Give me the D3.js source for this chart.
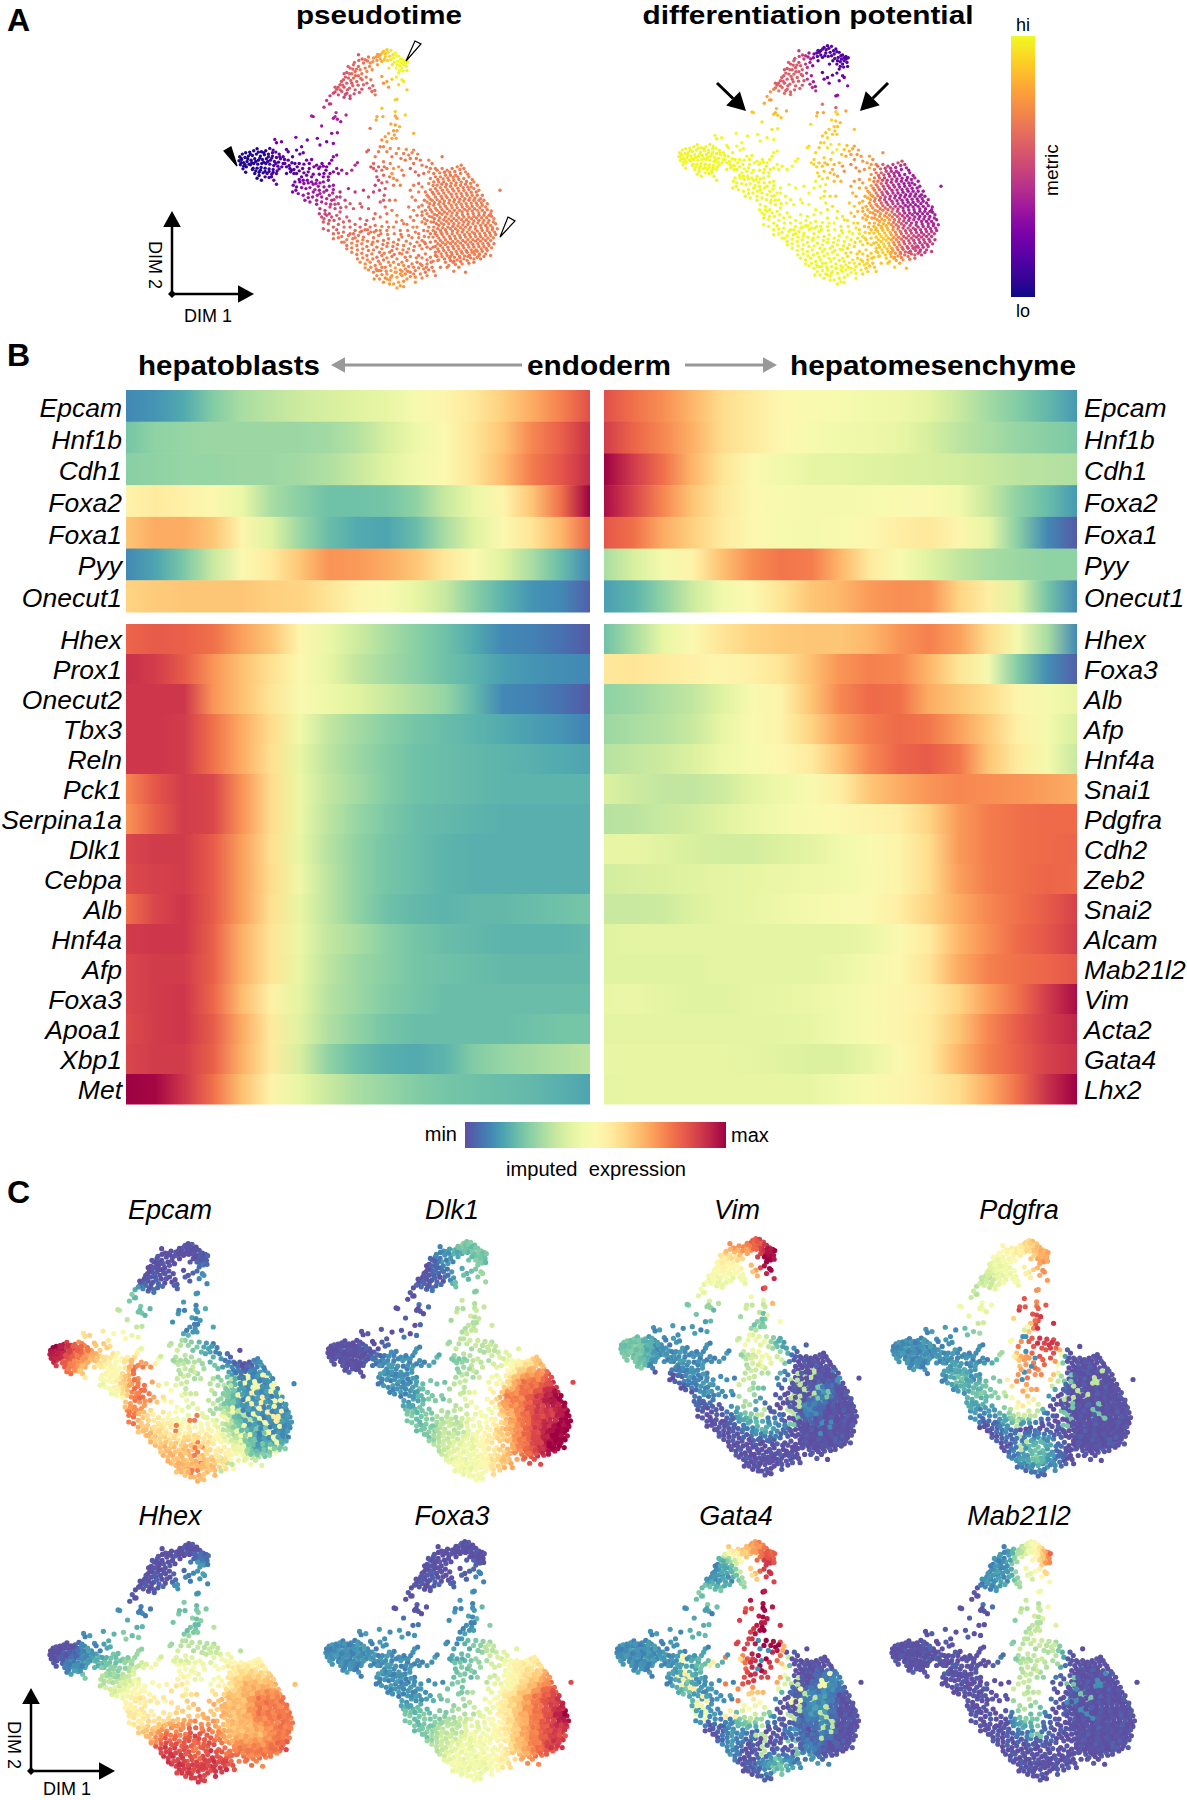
<!DOCTYPE html>
<html><head><meta charset="utf-8">
<script src="https://cdn.jsdelivr.net/npm/d3@7"></script>
<style>html,body{margin:0;padding:0;background:#fff}svg{display:block}text{font-family:"Liberation Sans",Arial,sans-serif;fill:#000}</style>
</head><body><svg id="c" width="1187" height="1800"></svg>
<script>
// --- embedding positions (DIM1, DIM2 as picture units)
const cells=[780,165,790,155,800,150,812,152,825,160,835,170,845,178,855,182,850,195,858,200,845,205,838,212,830,195,820,175,808,170,795,172,780,178,785,185,835,220,815,238,845,240,800,245,790,250,805,262,835,255,850,245,860,270,785,230,
760,175,745,172,735,180,715,165,750,190,730,190,715,200,700,195,690,205,720,210,705,215,695,222,680,218,685,235,700,235,715,228,725,222,740,215,670,240,680,250,695,250,710,245,660,255,672,262,688,265,650,268,665,275,680,280,655,285,672,292,690,288,705,270,725,268,748,265,755,275,765,285,730,255,
630,288,632,312,612,322,628,312,580,350,575,348,648,338,645,350,652,358,662,365,678,345,605,378,635,400,652,398,825,300,830,298,785,325,825,335,855,345,825,348,788,350,768,360,750,385,812,372,825,375,838,380,830,392,822,405,880,400,
360,470,368,462,378,458,390,456,402,452,412,446,425,455,438,452,450,445,460,450,468,456,478,462,358,482,366,478,376,472,386,468,398,466,410,462,422,468,434,464,446,462,458,468,470,472,482,476,362,494,372,488,382,484,394,480,405,476,416,480,428,478,440,476,452,480,464,484,476,486,490,490,370,506,380,500,392,494,402,490,414,492,426,490,438,490,450,492,462,496,474,498,486,500,378,516,400,504,412,504,424,502,436,504,448,506,460,508,472,512,405,520,418,516,430,518,442,520,456,522,470,520,412,534,425,540,448,532,462,540,470,552,
465,418,485,425,470,428,500,448,528,412,562,420,592,415,620,425,640,430,545,440,505,455,530,450,550,458,600,435,490,470,505,480,518,470,540,462,560,480,575,478,590,495,610,498,628,490,640,470,650,465,495,490,510,505,522,508,532,500,548,505,565,515,582,500,600,500,618,510,500,520,515,510,530,520,545,530,560,525,575,530,590,540,610,530,630,520,650,505,665,510,680,520,695,510,705,495,712,488,520,555,528,570,540,545,552,550,565,548,580,552,595,558,610,545,625,540,640,555,660,575,685,565,518,575,535,580,550,585,565,580,580,575,600,580,620,570,638,578,650,590,555,600,570,605,590,600,605,590,620,595,635,600,655,610,675,600,
785,420,800,425,790,440,810,445,775,455,800,455,815,470,760,490,790,485,745,450,740,455,835,445,850,460,865,465,880,450,892,462,870,475,855,480,880,490,900,480,925,480,935,490,945,505,965,470,820,505,835,500,800,505,760,505,815,520,770,530,790,525,830,540,850,525,895,525,910,520,925,515,800,545,785,548,775,540,795,565,820,555,840,555,760,575,730,570,705,575,875,590,885,600,895,575,
950,510,965,505,980,510,995,505,1010,500,1022,495,1035,515,1020,520,1005,525,990,525,975,525,960,530,945,530,930,535,925,550,940,545,955,545,970,545,985,540,1000,540,1015,538,1030,535,1045,530,1060,545,1070,555,1050,550,1035,552,1020,555,1005,555,990,558,975,560,960,562,945,565,930,568,915,575,925,590,940,582,955,580,970,578,985,575,1000,572,1015,572,1030,570,1045,568,1060,565,1075,570,1085,585,1070,585,1055,585,1040,585,1025,588,1010,590,995,590,980,592,965,595,950,598,935,600,920,605,1138,570,
905,615,925,620,940,615,955,612,970,610,985,608,1000,605,1015,605,1030,602,1045,600,1060,600,1075,600,1090,600,1100,610,1085,615,1070,615,1055,618,1040,618,1025,620,1010,622,995,622,980,625,965,628,950,630,935,635,920,640,905,645,920,660,935,650,950,645,965,642,980,640,995,638,1010,638,1025,635,1040,632,1055,632,1070,630,1085,630,1100,628,1112,632,1105,645,1090,645,1075,645,1060,648,1045,650,1030,650,1015,652,1000,654,985,656,970,658,955,660,940,665,
925,680,940,680,955,675,970,672,985,670,1000,670,1015,668,1030,665,1045,665,1060,662,1075,660,1090,660,1105,660,1120,655,1125,670,1110,675,1095,675,1080,675,1065,678,1050,680,1035,680,1020,682,1005,685,990,685,975,688,960,690,945,695,930,700,950,705,965,702,980,700,995,700,1010,698,1025,695,1040,695,1055,695,1070,692,1085,690,1100,690,1115,688,1130,685,1125,702,1110,705,1095,705,1080,708,1065,708,1050,710,1035,710,1020,712,1005,715,990,715,975,718,960,720,945,722,930,725,
945,738,960,735,975,732,990,730,1005,730,1020,728,1035,725,1050,725,1065,722,1080,722,1095,720,1110,720,1120,730,1105,735,1090,738,1075,738,1060,740,1045,740,1030,742,1015,745,1000,745,985,748,970,750,955,752,965,768,980,765,995,762,1010,760,1025,758,1040,755,1055,755,1070,752,1085,752,1100,750,1110,765,1090,768,1070,770,1050,772,1030,775,1010,778,990,780,975,785,1005,792,1025,790,1045,788,1060,785,960,800,980,800,1000,812,1035,815,945,825,
600,625,615,630,630,620,645,625,660,635,700,625,725,620,745,625,765,640,795,620,790,600,780,605,800,640,815,630,605,650,620,645,635,650,650,645,680,650,720,655,740,660,760,655,780,650,800,665,830,645,850,670,880,630,895,620,905,635,890,645,610,665,625,670,640,680,655,672,670,665,690,680,705,672,720,680,735,688,750,680,765,675,780,690,800,690,820,680,840,690,860,672,880,660,890,680,905,665,910,690,885,695,865,705,845,710,
640,700,655,698,670,695,685,705,700,700,715,705,730,710,745,700,760,712,775,705,790,720,805,715,820,725,835,718,850,735,870,730,890,725,905,720,920,740,905,745,665,725,680,735,695,728,710,735,725,730,740,738,755,732,770,740,785,745,800,738,815,750,830,745,845,760,860,755,880,750,895,765,915,760,930,770,945,765,695,755,710,762,725,758,740,765,755,760,770,770,785,765,800,772,815,768,830,775,845,785,860,780,875,790,890,785,905,795,920,790,935,800,
720,785,735,790,750,785,765,795,780,790,795,800,810,795,825,802,840,808,855,805,870,815,885,810,900,820,915,815,745,808,760,815,775,810,770,825,785,822,800,820,815,825,830,830,845,825,860,835,885,845,790,845,820,850,830,862,850,858,808,838];
const cellsExtra=[742,184,726,178,709,208,698,208,688,222,676,232,692,242,706,228,722,236,735,205,748,200,758,186,768,172,772,164,703,188,716,182,684,200,672,222,664,245,654,262,645,276,668,256,682,270,698,258,714,256,726,240,738,232,645,262,660,270,676,284,702,282,718,278,758,258,764,272,740,250,752,240,772,195,756,210,640,280,690,296,
786,160,796,162,804,158,818,165,828,168,840,180,850,186,842,190,832,185,822,188,812,180,802,182,792,180,775,170,770,182,848,214,838,198,828,205,856,190,862,186,860,212,828,232,806,205,816,195,
364,488,372,498,384,476,396,488,408,484,420,474,432,486,444,484,456,474,468,490,480,470,392,462,416,456,432,458,446,470,458,458,364,474,376,494,388,492,398,508,408,512,422,510,436,514,448,514,460,516,478,506,494,478,500,500,418,526,436,530,455,530,
508,496,516,488,525,490,538,490,552,492,568,490,596,505,606,490,620,500,635,480,512,515,522,520,538,512,552,518,568,505,580,522,598,522,612,520,625,530,640,515,655,520,538,538,550,540,562,540,575,545,588,550,600,548,612,560,628,558,640,568,525,545,530,560,545,562,558,565,570,562,585,568,598,570,612,575,628,585,642,598,660,590,565,592,578,590,592,585,605,605,618,610,632,612,645,612,662,622,678,620,590,612,598,640,612,655,628,640,
640,355,620,302,770,350,830,355,820,392,815,415,805,400,795,410,828,415,780,440,765,470,752,500,768,512,792,500,810,490,
828,460,842,475,858,448,875,458,888,475,905,495,918,500,930,505,940,520,870,505,885,515,845,510,820,535,808,530,785,510,775,500,765,555,778,570,792,585,808,600,825,600,870,570,880,555,895,550,905,560,865,620,870,650,720,610,690,610,745,590,
615,640,628,660,642,660,658,655,672,680,688,662,705,690,720,695,736,672,752,695,768,690,785,678,805,680,828,665,845,660,862,690,878,680,895,700,912,708,650,688,665,708,680,718,698,715,712,722,728,718,742,722,758,725,772,722,788,732,802,728,818,738,832,732,848,748,865,745,882,738,898,735,915,730,930,745,680,745,695,742,712,748,728,745,745,750,760,748,778,755,792,758,808,755,822,762,838,758,855,770,870,768,888,772,905,772,920,778,938,782,952,780,712,775,728,772,742,778,758,775,775,782,790,778,805,785,820,785,835,792,850,795,865,798,880,800,895,802,910,805,925,808,940,812,735,802,752,800,768,805,782,810,798,812,812,810,825,815,840,820,855,820,870,828,885,830,905,832,920,825,762,835,778,835,795,832,808,850,835,845,850,842,840,855,
958,518,972,516,988,516,1003,514,1018,508,1030,505,1042,522,1055,538,1012,530,998,532,982,533,968,536,952,538,938,556,950,555,964,552,978,552,992,549,1007,548,1022,546,1038,544,1052,560,1042,560,1028,562,1012,564,996,566,980,568,966,570,950,572,936,576,920,585,930,597,945,590,962,588,976,586,992,582,1007,581,1022,580,1037,578,1052,576,1067,575,1080,595,1063,593,1048,593,1033,595,1018,597,1002,598,987,600,972,602,958,604,942,607,928,610,912,600,
915,630,930,628,945,624,960,620,975,618,992,615,1007,613,1022,612,1037,610,1052,609,1067,608,1082,607,1095,620,1078,622,1062,625,1047,625,1032,627,1017,630,1002,630,987,632,972,635,957,637,942,642,927,648,912,655,915,670,932,665,948,670,962,668,978,663,993,662,1008,660,1023,658,1038,658,1053,655,1068,653,1083,652,1098,652,1113,648,1118,665,1102,668,1087,668,1072,668,1057,670,1042,672,1027,674,1012,676,997,678,982,680,967,682,952,685,938,690,922,692,
938,710,955,713,970,710,987,708,1002,707,1017,705,1032,703,1047,702,1062,700,1077,700,1092,698,1107,697,1122,695,1118,712,1102,713,1087,715,1072,716,1057,718,1042,718,1027,720,1012,722,997,723,982,725,967,727,952,730,938,740,952,745,967,742,982,740,997,738,1012,737,1027,735,1042,733,1057,732,1072,730,1087,730,1102,728,1113,742,1097,744,1082,745,1067,748,1052,748,1037,750,1022,752,1007,753,992,755,977,757,962,760,945,755,955,778,972,775,987,772,1002,770,1017,768,1032,766,1047,764,1062,762,1077,760,1095,760,1080,775,1060,775,1040,780,1020,783,998,785,985,795,1015,800,
1110,640,1092,637,1075,638,1058,640,1042,641,1026,643,1008,645,992,647,975,650,958,652,942,655,1116,682,1100,682,1082,683,1064,686,1046,687,1028,688,1012,691,996,692,978,695,962,696,944,700,925,710,912,725,895,712,875,712,858,722,842,702,822,700,802,702,782,700,762,695,742,688,725,692,705,712,690,700,672,725,655,712,640,715,625,690,610,685,
1062,752,1042,768,1018,772,1000,782,990,768,1075,765,950,768,932,785,918,800,900,790,880,820,862,812,845,812,828,815,812,830,800,835,785,800,770,810];

// --- value per embedding region, digits 0-9 (50x50 unit cells, x from 350, y from 140)
const pseudotime=[".......5799.....","......56799.....","......55588.....",".....4448.88....","....333.7.88....","..222234.7777...","0011223.666666..","0011223457566666","..22333446666666","...3345556666666",".....55566666666","......6666666666",".......666666666",".......767666...","........7777...."];
const potential=[".......4111.....","......55111.....","......55222.....",".....7655.77....","....888.8.77....","..999999.88777..","9999999.8977777.","999999998767433.","..99999998774333","...9999998874333",".....99999877433","......9999988544",".......999888544","........9998887.","........99......"];
const epcamBase=[".......0000.....","......00001.....","......00011.....",".....2111.22....","....322...12....","..55443..1120...","9876544.32100...","87654772332101..","..5457743332111.","...4477543321111",".....7554433111.","......6555532111",".......66655312.","........6665443.","........66......"];
const epcamAlt=[,,,,,,,,"...........3444.","...........2454.",".........7.4345.","........7..3424.",".........7..424.",".........7.3...."];
const dlk1Base=[".......1222.....","......01122.....","......00223.....",".....0113.33....","....000.3.33....","..000012.3333...","0000111.33334...","00011112233456..","..01112233457788","...111223457789.",".....22334467889","......2334567899",".......34456789.","........445678..","........44......"];
const vimBase=[".......7789.....","......55699.....","......44489.....",".....4434.67....","....222.3.66....","..111122.2344...","2211111.4411....","2211111134400000","..00111.33100000","...0011.31000100",".....00130001000","......0012100000",".......000000000","........000000..","........00......"];
const vimAlt=[,,,,,,,,"...........33.1.","...........332..",".........3.31...","...........2.1.."];
const pdgfraBase=[".......5566.....","......44567.....","......34467.....",".....344.777....","....444.8.88....","..11133.2888....","111111.3888.....","1111111367800000","..11212.77600000","...112236600000.",".....11252000000","......0100000000",".......01210000.","........121000..","........00......"];
const pdgfraAlt=[,,,,,,"........1.......",".........1......","........1..2.3..","........5..33...",".........3.2.2..","........3..2....","........3......."];
const hhexBase=[".......0000.....","......00011.....","......00111.....",".....0012.22....","....111.2.22....","..112222.2333...","0011223.3333344.","0112234.4445555.","..33344554456666","...4455556666777",".....55566666777","......6778766677",".......887877778","........88887...","........88......"];
const foxa3Base=[".......0000.....","......00000.....","......00011.....",".....0011.11....","....000.1.22....","..111111.1222...","1111111.12334...","1111111122345566","..11111122345678","...1111223456788",".....22233456789","......2334456788",".......344456788","........4445677.","........44......"];
const gata4Base=[".......6677.....","......12688.....","......11388.....",".....232.99.....","....111.8.88....","..11122.8988....","1111111.8990....","1111122189700000","..11211.88700110","...1211.55001100",".....11143001100","......0110010100",".......100001000","........01211...","........00......"];
const gata4Alt=[,,,,,"........1.1.....",".........1.0....","....4.57.1.0....","....5.47...3.4..","...4.5.7...43...",".....4.5...3.3..",".........3...3..",".........3.2....","..........2....."];
const mab21l2Base=[".......1358.....","......11458.....","......11345.....",".....0123.4.....","....000.3.44....","..000001.3333...","0000000.33300...","0000000133300000","..00000.33000000","...0000.33000000",".....00031000000","......0011000000",".......000000000","........000000..","........00......"];
const mab21l2Alt=[,,,,,,,,"...........2.1..","...........12...",".........2..1...",".........2......"];
const speckle=[0,1,0,0,1,0,0,0,1,1,0,0,1,0,1,0,0,0,1,0,0,1,0,0,0,1,0,1,0];
const shade=[-0.4,0.3,0,0.5,-0.2,0.2,-0.5,0.1,0.4,-0.3,0,0.35,-0.15,0.25,-0.35,0.15,0.05];

// --- heatmap: gene lists and expression (0 min .. 10 max) at 17 positions along pseudotime
const topGenes=["Epcam","Hnf1b","Cdh1","Foxa2","Foxa1","Pyy","Onecut1"];
const leftLowGenes=["Hhex","Prox1","Onecut2","Tbx3","Reln","Pck1","Serpina1a","Dlk1","Cebpa","Alb","Hnf4a","Afp","Foxa3","Apoa1","Xbp1","Met"];
const rightLowGenes=["Hhex","Foxa3","Alb","Afp","Hnf4a","Snai1","Pdgfra","Cdh2","Zeb2","Snai2","Alcam","Mab21l2","Vim","Acta2","Gata4","Lhx2"];
const leftTop=[
[1,1.2,1.6,2.4,3,3.3,3.6,3.8,4,4.2,4.7,5.2,5.7,6.3,7,7.7,8.6],
[2.2,2.6,2.7,2.8,2.8,2.8,2.8,2.9,3.2,3.8,4.4,5,5.8,6.5,7.6,8.3,9.2],
[2.5,2.6,2.7,2.7,2.8,2.8,2.9,3.1,3.5,4,4.5,5,5.8,6.7,7.8,8.5,9.3],
[5.3,5.6,5.4,5.1,4.3,3,2.5,2.1,2.1,2.2,2.6,3.5,4.3,5.2,6.5,8,10],
[6.5,7,7,6.5,5.2,4,2.8,2,1.6,1.5,2,3,4,5,5.8,6.8,8.2],
[1,1.5,2.3,3.5,5,5.6,6.5,7.4,7.3,7,6.5,5.7,5,4,3,2,1],
[6.2,6.4,6.5,6.5,6.5,6.3,6.2,5.8,5.2,4.8,4.2,3.5,2.5,1.8,1.2,1,0.3]];
const rightTop=[
[8.6,8,7.5,6.8,6,5.6,5.1,4.9,4.7,4.5,4.4,4.1,3.5,2.9,2.4,1.9,1.3],
[9,8.2,7.6,6.9,6,5.6,5.1,4.7,4.5,4.4,4.2,3.8,3.3,3,2.7,2.5,2.3],
[10,9,8,6.8,5.8,5,4.5,4.2,4.1,4,3.9,3.8,3.7,3.5,3.3,3.2,3.1],
[9.8,8.8,7.6,6.5,5.7,5.1,4.8,4.6,4.6,4.7,4.9,5,4.5,3.5,2.6,2,1.3],
[8.5,8,7,6.3,5.6,5.1,4.7,4.6,4.8,5.1,5.5,5.7,5.2,4.2,2.5,1,0.2],
[3,3.8,4.6,5.3,6.6,7.5,7.9,7.8,6.8,5.6,4.8,4,3.4,3,2.8,2.6,2.6],
[1.4,1.8,2.6,3.6,4.5,5,5.8,6.5,6.8,7.3,7.5,7.4,6.2,5.5,4,2.2,1]];
const leftLow=[
[8.2,8.4,8.3,8,7.2,6.5,5.2,4.3,3.6,3,2.5,2.1,1.6,1,0.9,0.6,0.2],
[9.2,9,8.4,7.4,6.6,5.9,5,4.2,3.4,2.9,2.5,2.1,1.8,1.4,1.2,1.1,1],
[9.1,9.1,9.1,7.4,6.6,5.8,4.8,4.4,4,3.5,3.1,2.7,1.9,1,0.9,0.6,0.2],
[9.1,9.1,9,8,7,6,4.5,3.4,2.9,2.5,2.2,2,1.8,1.6,1.4,1.2,0.9],
[9.1,9.1,9,8,7,5.9,4.2,3.3,2.8,2.4,2.1,2,1.9,1.8,1.7,1.6,1.5],
[7.6,8.5,9,8.8,7.4,6,4.3,3.4,2.9,2.4,2.1,2,1.9,1.8,1.8,1.8,1.8],
[7.4,8.3,9,8.8,7.4,6,4.3,3.3,2.7,2.3,2,1.9,1.8,1.7,1.7,1.7,1.7],
[8.8,9,9,8.4,7.2,5.9,4.2,3.2,2.6,2.2,2,1.8,1.7,1.7,1.7,1.7,1.7],
[8.7,8.9,9,8.4,7.2,6,4.4,3.3,2.6,2.2,2,1.8,1.7,1.7,1.7,1.7,1.7],
[8,8.8,9.1,8.4,7.2,5.9,4.2,3.3,2.6,2.1,1.9,1.8,1.9,1.9,2,2.1,2.2],
[9,9.1,9.1,8.3,6.9,5.8,4.3,3.4,3,2.5,2.2,2,1.9,1.8,1.8,1.8,1.9],
[8.8,9,9,8.3,6.9,5.8,4.2,3.3,2.8,2.5,2.2,2.1,2,1.9,1.9,1.9,1.9],
[8.8,9,9.1,8.2,6.7,5.4,4.1,3.2,2.8,2.4,2.2,2,2,2,2,2,2],
[8.7,9,9.1,8.4,7,5.6,4,3.1,2.6,2.2,2,2,2,2,2.1,2.2,2.2],
[8.8,9,9,8.3,6.9,5.6,3.8,2.6,2,1.7,1.6,1.8,2.4,2.7,2.9,3.1,3.3],
[10,9.9,9.1,8,6.6,5.3,4.2,3.5,3,2.7,2.4,2.2,2.1,2,1.9,1.7,1.5]];
const rightLow=[
[2.1,3,4.2,5,5.8,6.2,6.4,6.5,6.5,6.8,7.4,7.7,7.2,6,4.6,3,1],
[5.7,5.8,5.6,5.4,5.2,5.4,5.8,6.6,7.4,7.7,7.6,6.8,5.8,4.6,2.4,1.1,0.3],
[2.6,2.8,3.1,3.4,4,4.8,5.3,6.5,7.6,8.1,8,7,6.5,6,5.2,4.6,4.2],
[2.8,3,3.2,3.5,4.2,4.9,5.3,6.2,7.2,7.8,8.1,7.9,7.2,6.4,5.4,4.6,3.8],
[3.2,3.4,3.6,3.9,4.4,4.7,5.1,5.6,6.6,7.6,8.2,8.4,7.9,6.5,5.6,4.6,3.5],
[3.9,3.6,3.4,3.4,3.6,4.1,4.4,4.8,5.5,6.5,7,7.4,7.6,7.5,7.4,7.2,7],
[3.2,3.3,3.5,3.7,4,4.3,4.6,4.9,5.1,5.3,5.5,6.2,7.3,7.8,8,8.1,8.1],
[4.2,4.2,4,3.8,3.7,3.7,3.9,4.1,4.5,4.9,5.3,6,7.3,7.8,8,8.1,8.2],
[3.7,3.8,3.9,4,4.1,4.2,4.3,4.4,4.5,4.8,5.3,6,7.2,7.8,8,8.2,8.1],
[3.5,3.5,3.6,3.9,4.1,4.2,4.4,4.6,4.8,5,5.5,6.2,7,7.6,8,8.4,8.9],
[4,4.1,4.1,4.1,4.1,4.1,4.1,4.1,4.1,4.3,5,5.6,6.8,7.5,8.1,8.5,9],
[4,4,4,4,4.1,4.1,4.1,4.1,4.3,4.6,5.1,5.8,7,7.7,8,8.2,8.5],
[4.2,4.3,4.1,4,4,4.1,4.2,4.3,4.5,4.8,5.2,5.5,6.2,7.2,8,9,9.8],
[4.1,4.1,4.1,4.1,4.1,4.1,4.1,4.2,4.5,4.8,5.2,5.6,6.5,7.6,8.4,9,9.4],
[4.2,4.2,4.2,4.2,4.2,4.1,4,3.9,3.9,4.2,5,5.6,6.8,7.7,8.3,8.9,9.2],
[4.1,4.2,4.2,4.2,4.2,4.2,4.2,4.2,4.5,4.8,5.2,5.5,6,7,8,9.2,10]];

const svg=d3.select("#c"), defs=svg.append("defs");
const allCells=cells.concat(cellsExtra);
const pts=d3.range(0,allCells.length,2).map(i=>({x:allCells[i],y:allCells[i+1],i:i/2}));
const cellOf=(grid,c,r)=>{const s=grid[r];const ch=s?s.charAt(c):"";return /[0-9]/.test(ch)?+ch:null;};
function nearest(grid,c,r){
  let v=cellOf(grid,c,r);
  for(const [dc,dr] of [[-1,0],[1,0],[0,-1],[0,1],[-1,-1],[1,-1],[-1,1],[1,1],[-2,0],[2,0]]){ if(v===null) v=cellOf(grid,c+dc,r+dr); }
  return v===null?0:v;
}
function lookup(grid,p){
  const u=(p.x-350)/50-0.5, w=(p.y-140)/50-0.5, c=Math.floor(u), r=Math.floor(w), fu=u-c, fw=w-r;
  let sum=0,tot=0;
  [[0,0,(1-fu)*(1-fw)],[1,0,fu*(1-fw)],[0,1,(1-fu)*fw],[1,1,fu*fw]].forEach(([dc,dr,k])=>{
    const v=cellOf(grid,c+dc,r+dr); if(v!==null){sum+=v*k;tot+=k;}
  });
  return tot>0.15?sum/tot:nearest(grid,Math.floor((p.x-350)/50),Math.floor((p.y-140)/50));
}
const plasma=v=>d3.interpolatePlasma(Math.min(1,0.03+v/9*0.97));
const spectral=v=>d3.interpolateSpectral(Math.max(0,Math.min(1,1-v/9)));
function scatter(o){
  const x=d3.scaleLinear([355,1138],[o.x0,o.x1]), y=d3.scaleLinear([148,862],[o.y0,o.y1]);
  svg.append("g").selectAll("circle").data(pts).join("circle")
    .attr("cx",d=>x(d.x)).attr("cy",d=>y(d.y)).attr("r",o.r)
    .attr("fill",d=>{
      let v=lookup(o.base,d)+shade[d.i%shade.length]*o.vary;
      if(o.alt&&speckle[d.i%speckle.length]){const a=o.alt[Math.floor((d.y-140)/50)];const ch=a?a.charAt(Math.floor((d.x-350)/50)):"";if(/[0-9]/.test(ch))v=+ch;}
      return o.color(Math.max(0,v));
    });
}
const T=(x,y,s,size,opt={})=>{const t=svg.append("text").attr("x",x).attr("y",y).attr("font-size",size).text(s)
  .attr("text-anchor",opt.anchor||"start").attr("font-weight",opt.bold?"bold":"normal").attr("font-style",opt.italic?"italic":"normal");
  if(opt.len)t.attr("textLength",opt.len).attr("lengthAdjust","spacingAndGlyphs");
  if(opt.rot!==undefined)t.attr("transform",`rotate(${opt.rot} ${x} ${y})`);return t;};

// Panel letters
T(7,31,"A",32,{bold:true});T(7,366,"B",32,{bold:true});T(7,1203,"C",32,{bold:true});

// Panel A
scatter({x0:238,x1:500,y0:49,y1:288,r:1.7,base:pseudotime,color:plasma,vary:0.35});
scatter({x0:678,x1:941,y0:45,y1:284,r:1.7,base:potential,color:plasma,vary:0.35});
T(379,23.5,"pseudotime",26,{bold:true,anchor:"middle",len:166});
T(808,23.5,"differentiation potential",26,{bold:true,anchor:"middle",len:331});
const wedge=(pts,fill)=>svg.append("polygon").attr("points",pts.join(" ")).attr("fill",fill).attr("stroke","#000").attr("stroke-width",1.2);
wedge([[237,166],[224,151],[231,147]],"#000");
wedge([[406,61],[415,41],[421,44]],"#fff");
wedge([[500,237],[508,217],[515,221]],"#fff");
function arrow(x1,y1,x2,y2,w,head,col){
  const a=Math.atan2(y2-y1,x2-x1),L=head,H=head*0.55;
  const bx=x2-L*Math.cos(a),by=y2-L*Math.sin(a);
  svg.append("line").attr("x1",x1).attr("y1",y1).attr("x2",bx).attr("y2",by).attr("stroke",col).attr("stroke-width",w);
  svg.append("polygon").attr("fill",col).attr("points",[[x2,y2],[bx+H*Math.sin(a),by-H*Math.cos(a)],[bx-H*Math.sin(a),by+H*Math.cos(a)]].join(" "));
}
arrow(717,83,746,111,3,18,"#000");
arrow(888,83,860,111,3,18,"#000");
function dimAxes(ox,oy,tipY,tipX,lx2,ly2,lx1,ly1){
  arrow(ox,oy,ox,tipY,2.5,16,"#000");arrow(ox,oy,tipX,oy,2.5,16,"#000");
  svg.append("path").attr("d",`M${ox-4},${oy}L${ox},${oy-4}L${ox+4},${oy}L${ox},${oy+4}Z`);
  T(lx2,ly2,"DIM 2",18,{anchor:"middle",rot:90});T(lx1,ly1,"DIM 1",18,{anchor:"middle"});
}
dimAxes(172,294,211,254,149,265,208,322);
// Plasma colour bar
const barScale=d3.scaleLinear([0,1],[297,36]);
const pg=defs.append("linearGradient").attr("id","plasmaBar").attr("x1",0).attr("x2",0).attr("y1",1).attr("y2",0);
d3.range(0,1.001,0.05).forEach(t=>pg.append("stop").attr("offset",t).attr("stop-color",d3.interpolatePlasma(t)));
svg.append("rect").attr("x",1011).attr("width",24).attr("y",barScale(1)).attr("height",barScale(0)-barScale(1)).attr("fill","url(#plasmaBar)");
T(1023,31,"hi",18,{anchor:"middle"});T(1023,317,"lo",18,{anchor:"middle"});
T(1058,170,"metric",19,{anchor:"middle",rot:-90});

// Panel B heatmap
const heatColor=v=>d3.interpolateSpectral(1-v/10);
let gid=0;
function heat(rows,genes,x0,x1,y0,y1){
  const y=d3.scaleBand(genes,[y0,y1]);
  const kx=d3.scaleLinear([0,16],[0,100]);
  rows.forEach((vals,i)=>{
    const id="h"+(gid++);
    const g=defs.append("linearGradient").attr("id",id);
    vals.forEach((v,k)=>g.append("stop").attr("offset",kx(k)+"%").attr("stop-color",heatColor(v)));
    svg.append("rect").attr("x",x0).attr("y",y(genes[i])).attr("width",x1-x0).attr("height",y.bandwidth()+0.5).attr("fill",`url(#${id})`);
  });
  return y;
}
const lx=[126,590],rx=[604,1077];
const yTL=heat(leftTop,topGenes,lx[0],lx[1],390,612);
const yTR=heat(rightTop,topGenes,rx[0],rx[1],390,612);
const yLL=heat(leftLow,leftLowGenes,lx[0],lx[1],624,1104);
const yLR=heat(rightLow,rightLowGenes,rx[0],rx[1],624,1104);
const geneLabel=(g,x,y,anchor,off)=>T(x,y(g)+y.bandwidth()/2+off,g,26.5,{italic:true,anchor});
topGenes.forEach(g=>{geneLabel(g,122,yTL,"end",11);geneLabel(g,1084,yTR,"start",11);});
leftLowGenes.forEach(g=>geneLabel(g,122,yLL,"end",10));
rightLowGenes.forEach(g=>geneLabel(g,1084,yLR,"start",10));
T(229,375,"hepatoblasts",28,{bold:true,anchor:"middle",len:182});
T(599,375,"endoderm",28,{bold:true,anchor:"middle",len:144});
T(933,375,"hepatomesenchyme",28,{bold:true,anchor:"middle",len:286});
arrow(522,365,331,365,3,14,"#999");
arrow(685,365,777,365,3,14,"#999");
// Spectral legend
const sg=defs.append("linearGradient").attr("id","specBar");
d3.range(0,10.01,0.5).forEach(v=>sg.append("stop").attr("offset",v*10+"%").attr("stop-color",heatColor(v)));
svg.append("rect").attr("x",465).attr("y",1122).attr("width",261).attr("height",26).attr("fill","url(#specBar)");
T(457,1141,"min",20,{anchor:"end"});T(731,1142,"max",20);
T(596,1176,"imputed  expression",20,{anchor:"middle",len:180}).style("white-space","pre");

// Panel C
const genePanels=[
 {n:"Epcam",base:epcamBase,alt:epcamAlt,x0:49,x1:294,y0:1243,y1:1481,tx:170,ty:1219},
 {n:"Dlk1",base:dlk1Base,x0:327,x1:573,y0:1241,y1:1480,tx:452,ty:1219},
 {n:"Vim",base:vimBase,alt:vimAlt,x0:620,x1:859,y0:1238,y1:1475,tx:737,ty:1219},
 {n:"Pdgfra",base:pdgfraBase,alt:pdgfraAlt,x0:892,x1:1133,y0:1240,y1:1476,tx:1019,ty:1219},
 {n:"Hhex",base:hhexBase,x0:49,x1:295,y0:1543,y1:1782,tx:170,ty:1525},
 {n:"Foxa3",base:foxa3Base,x0:325,x1:571,y0:1541,y1:1780,tx:452,ty:1525},
 {n:"Gata4",base:gata4Base,alt:gata4Alt,x0:616,x1:861,y0:1541,y1:1780,tx:736,ty:1525},
 {n:"Mab21l2",base:mab21l2Base,alt:mab21l2Alt,x0:891,x1:1137,y0:1541,y1:1780,tx:1019,ty:1525}];
genePanels.forEach(p=>{scatter({...p,r:2.6,color:spectral,vary:0.6});T(p.tx,p.ty,p.n,27,{italic:true,anchor:"middle"});});
dimAxes(31,1771,1688,115,8,1745,67,1795);
</script></body></html>
